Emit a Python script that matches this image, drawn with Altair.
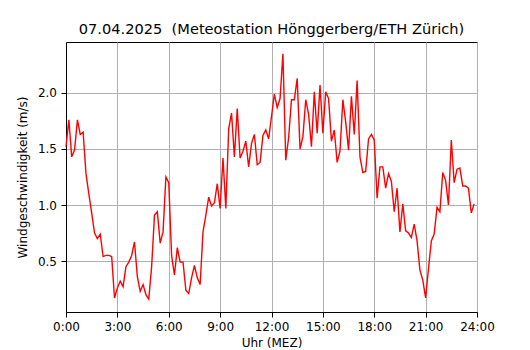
import altair as alt
import pandas as pd

# wind speed every 10 minutes (m/s), 07.04.2025
speed = [
    1.52, 1.76, 1.43, 1.49, 1.76, 1.63, 1.65, 1.28, 1.10, 0.93,
    0.75, 0.70, 0.74, 0.54, 0.55, 0.55, 0.54, 0.17, 0.26, 0.32,
    0.27, 0.45, 0.49, 0.55, 0.67, 0.36, 0.23, 0.29, 0.20, 0.16,
    0.45, 0.91, 0.94, 0.66, 0.76, 1.25, 1.20, 0.55, 0.375, 0.62,
    0.49, 0.49, 0.24, 0.21, 0.35, 0.46, 0.35, 0.29, 0.76, 0.91,
    1.07, 0.99, 1.02, 1.19, 0.97, 1.42, 0.97, 1.68, 1.82, 1.43,
    1.86, 1.42, 1.48, 1.57, 1.34, 1.55, 1.63, 1.36, 1.38, 1.62,
    1.67, 1.59, 1.79, 1.99, 1.87, 1.95, 2.35, 1.40, 1.60, 1.94,
    1.94, 2.13, 1.50, 1.61, 1.94, 1.81, 1.52, 2.01, 1.64, 2.07,
    1.64, 2.01, 1.95, 1.57, 1.67, 1.38, 1.48, 1.94, 1.74, 1.49,
    1.97, 1.63, 2.11, 1.43, 1.29, 1.30, 1.59, 1.63, 1.58, 1.06,
    1.34, 1.34, 1.15, 1.28, 1.21, 0.94, 1.15, 0.76, 1.01, 0.77,
    0.75, 0.71, 0.83, 0.68, 0.42, 0.33, 0.17, 0.43, 0.68, 0.74,
    0.98, 0.94, 1.29, 1.22, 1.00, 1.58, 1.20, 1.32, 1.33, 1.17,
    1.17, 1.15, 0.93, 1.01,
]
hours = [i / 6 for i in range(len(speed))]
x_ticks = [0, 3, 6, 9, 12, 15, 18, 21, 24]
y_ticks = [0.5, 1.0, 1.5, 2.0]

df = pd.DataFrame({"h": hours, "v": speed})

FONT = "DejaVu Sans"

chart = (
    alt.Chart(df)
    .mark_line(color="red", strokeWidth=1.4)
    .encode(
        x=alt.X(
            "h:Q",
            scale=alt.Scale(domain=[0, 24], nice=False, zero=False),
            axis=alt.Axis(
                values=x_ticks,
                labelExpr="datum.value + ':00'",
                labelOverlap=False,
                labelFlush=False,
                title="Uhr (MEZ)",
                titlePadding=5,
            ),
        ),
        y=alt.Y(
            "v:Q",
            scale=alt.Scale(domain=[0.045, 2.455], nice=False, zero=False),
            axis=alt.Axis(
                values=y_ticks,
                format=".1f",
                labelOverlap=False,
                title="Windgeschwindigkeit (m/s)",
                titlePadding=8,
            ),
        ),
    )
    .properties(
        width=411,
        height=270,
        autosize=alt.AutoSizeParams(type="none"),
        padding={"left": 58, "top": 34, "right": 45, "bottom": 37},
        title=alt.TitleParams(
            "07.04.2025\u00a0\u00a0(Meteostation Hönggerberg/ETH Zürich)",
            font=FONT,
            fontSize=14.6,
            fontWeight="normal",
            color="black",
            anchor="middle",
            offset=5,
        ),
    )
    .configure_view(stroke="black", strokeWidth=1)
    .configure_axis(
        labelFont=FONT,
        labelFontSize=12,
        labelColor="black",
        titleFont=FONT,
        titleFontSize=12,
        titleFontWeight="normal",
        titleColor="black",
        tickColor="black",
        tickSize=5,
        labelPadding=4.5,
        domainColor="black",
        gridColor="#b0b0b0",
        gridWidth=1,
    )
)

chart.save("out.html", embed_options={"renderer": "svg", "actions": False})
